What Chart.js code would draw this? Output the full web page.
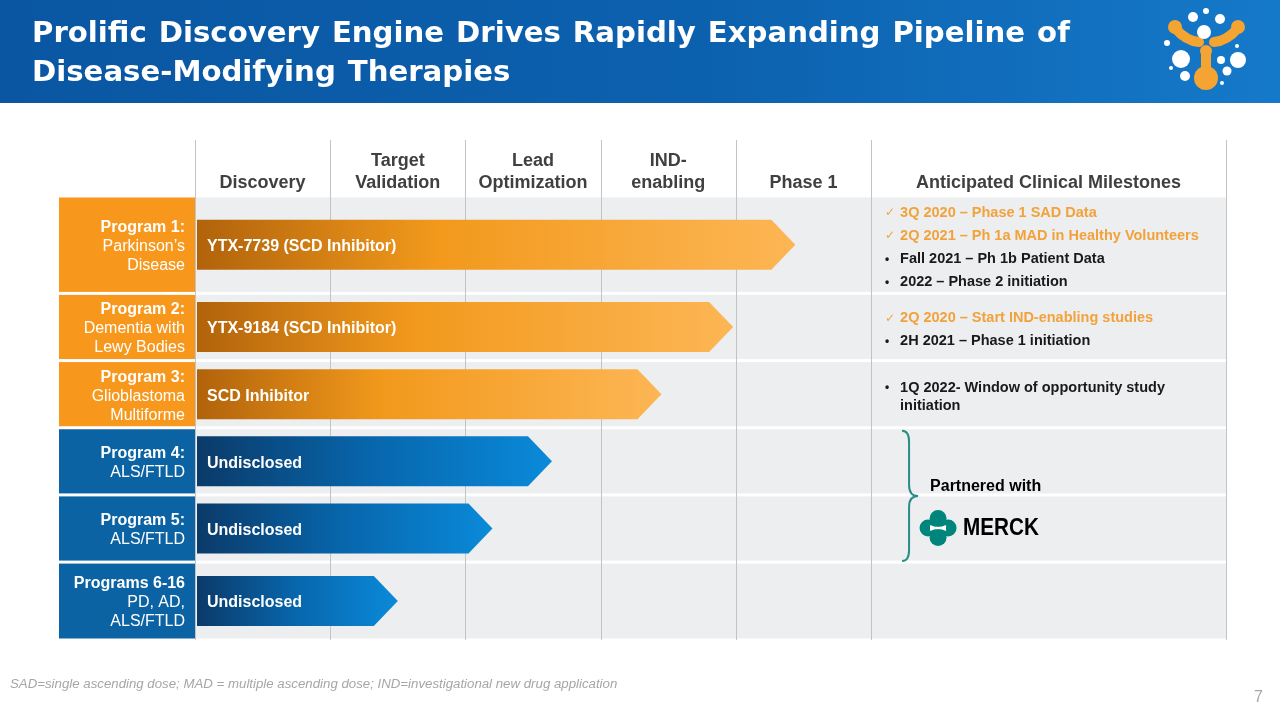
<!DOCTYPE html>
<html>
<head>
<meta charset="utf-8">
<title>Pipeline</title>
<script src="https://cdn.jsdelivr.net/npm/chart.js@4.4.0/dist/chart.umd.min.js"></script>
<style>
    body { margin: 0; width: 1280px; height: 720px; position: relative; overflow: hidden; background: #fff; }
    #band { position: absolute; left: 0; top: 0; width: 1280px; height: 103px; background: linear-gradient(90deg, #0A56A2 0%, #0C61AE 55%, #1579C9 100%); }
    #chart { position: absolute; left: 0; top: 0; }
    #title { position: absolute; left: 32px; top: 13px; color: #fff; font: bold 29.2px/39px 'DejaVu Sans', Verdana, sans-serif; word-spacing: 1.8px; white-space: nowrap; }
    #note { position: absolute; left: 10px; top: 676px; color: #A6A6A6; font: italic 13.25px 'Liberation Sans', Arial, sans-serif; }
    #page { position: absolute; left: 1254px; top: 688px; color: #A6A6A6; font: 16px 'Liberation Sans', Arial, sans-serif; }
</style>
</head>
<body>
    <div id="band"></div>
    <canvas id="chart" width="1280" height="720"></canvas>
    <div id="title">Prolific Discovery Engine Drives Rapidly Expanding Pipeline of<br>Disease-Modifying Therapies</div>
    <div id="note">SAD=single ascending dose; MAD = multiple ascending dose; IND=investigational new drug application</div>
    <div id="page">7</div>
    <script>
        // stages (x axis), one unit per stage
        const stages = [['Discovery'], ['Target', 'Validation'], ['Lead', 'Optimization'], ['IND-', 'enabling'], ['Phase 1']]
        const milestoneHeader = 'Anticipated Clinical Milestones'

        const programs = ['Program 1:', 'Program 2:', 'Program 3:', 'Program 4:', 'Program 5:', 'Programs 6-16']
        const indications = [['Parkinson’s', 'Disease'], ['Dementia with', 'Lewy Bodies'], ['Glioblastoma', 'Multiforme'], ['ALS/FTLD'], ['ALS/FTLD'], ['PD, AD,', 'ALS/FTLD']]
        const compounds = ['YTX-7739 (SCD Inhibitor)', 'YTX-9184 (SCD Inhibitor)', 'SCD Inhibitor', 'Undisclosed', 'Undisclosed', 'Undisclosed']
        // how far each program has progressed, in stages
        const progress = [4.44, 3.98, 3.45, 2.64, 2.20, 1.50]

        // [achieved, text]
        const milestones = [
            [[true, '3Q 2020 – Phase 1 SAD Data'], [true, '2Q 2021 – Ph 1a MAD in Healthy Volunteers'], [false, 'Fall 2021 – Ph 1b Patient Data'], [false, '2022 – Phase 2 initiation']],
            [[true, '2Q 2020 – Start IND-enabling studies'], [false, '2H 2021 – Phase 1 initiation']],
            [[false, '1Q 2022- Window of opportunity study initiation']],
            [], [], []
        ]
        const partnerRows = [3, 4]
        const partnerLabel = 'Partnered with'
        const partnerName = 'MERCK'

        // layout
        const FONT = "'Liberation Sans', Arial, sans-serif"
        const rowSpan = [1.45, 1, 1, 1, 1, 1.16]
        const milestoneSpan = 2.625
        const rowEdges = [0]
        rowSpan.forEach(s => rowEdges.push(rowEdges[rowEdges.length - 1] + s))
        const rowMid = rowSpan.map((s, i) => rowEdges[i] + s / 2)
        const colEdges = stages.map((s, i) => i).concat([stages.length, stages.length + milestoneSpan])

        const ORANGE = '#F7981D', BLUE = '#0C63A4', GRID = '#C3C3C3', ROW = '#EDEEF0'
        const isScd = i => /SCD/.test(compounds[i])

        function rowPx(chart, i) {
            const y = chart.scales.y
            return [y.getPixelForValue(rowEdges[i]), y.getPixelForValue(rowEdges[i + 1])]
        }

        function wrap(ctx, text, maxW) {
            const words = text.split(' ')
            const lines = []
            let cur = ''
            words.forEach(w => {
                const t = cur ? cur + ' ' + w : w
                if (ctx.measureText(t).width > maxW && cur) { lines.push(cur); cur = w } else cur = t
            })
            lines.push(cur)
            return lines
        }

        function drawLogo(ctx) {
            ctx.save()
            ctx.strokeStyle = '#F5A331'
            ctx.fillStyle = '#F5A331'
            ctx.lineCap = 'round'
            ctx.lineWidth = 10
            ctx.beginPath()
            ctx.moveTo(1175, 28); ctx.quadraticCurveTo(1186, 41, 1199, 42)
            ctx.moveTo(1238, 28); ctx.quadraticCurveTo(1227, 41, 1214, 42)
            ctx.moveTo(1206, 52); ctx.lineTo(1206, 72)
            ctx.stroke()
            ;[[1175, 27, 7], [1238, 27, 7], [1206, 78, 12], [1206, 51, 6]].forEach(c => {
                ctx.beginPath(); ctx.arc(c[0], c[1], c[2], 0, Math.PI * 2); ctx.fill()
            })
            ctx.fillStyle = '#fff'
            ;[[1181, 59, 9], [1238, 60, 8], [1204, 32, 7], [1193, 17, 5], [1220, 19, 5], [1206, 11, 3], [1167, 43, 3],
              [1237, 46, 2], [1221, 60, 4], [1227, 71, 4.5], [1185, 76, 5], [1171, 68, 2], [1222, 83, 2]].forEach(c => {
                ctx.beginPath(); ctx.arc(c[0], c[1], c[2], 0, Math.PI * 2); ctx.fill()
            })
            ctx.restore()
        }

        function drawMerck(ctx, cx, cy) {
            ctx.save()
            ctx.fillStyle = '#00857C'
            ;[[-10, 0, 8.5], [10, 0, 8.5], [0, -9.5, 8.5], [0, 9.5, 8.5]].forEach(c => {
                ctx.beginPath(); ctx.arc(cx + c[0], cy + c[1], c[2], 0, Math.PI * 2); ctx.fill()
            })
            ctx.fillStyle = '#fff'
            ctx.beginPath()
            ctx.moveTo(cx - 8, cy - 3); ctx.quadraticCurveTo(cx, cy + 1, cx + 8, cy - 3)
            ctx.lineTo(cx + 8, cy + 3); ctx.quadraticCurveTo(cx, cy - 1, cx - 8, cy + 3)
            ctx.closePath(); ctx.fill()
            ctx.fillStyle = '#000'
            ctx.font = `bold 23px ${FONT}`
            ctx.textBaseline = 'middle'
            ctx.translate(cx + 25, cy + 1)
            ctx.scale(0.9, 1)
            ctx.fillText(partnerName, 0, 0)
            ctx.restore()
        }

        const pipelinePlugin = {
            id: 'pipeline',
            beforeDatasetsDraw(chart) {
                const ctx = chart.ctx
                const area = chart.chartArea
                const xs = chart.scales.x
                ctx.save()
                // rows and program boxes
                rowSpan.forEach((s, i) => {
                    const [t, b] = rowPx(chart, i)
                    ctx.fillStyle = ROW
                    ctx.fillRect(area.left, t + 1.5, area.right - area.left, b - t - 3)
                    ctx.fillStyle = isScd(i) ? ORANGE : BLUE
                    ctx.fillRect(59, t + 1.5, area.left - 59, b - t - 3)
                    const lines = [programs[i]].concat(indications[i])
                    const mid = (t + b) / 2 + 2
                    ctx.fillStyle = '#fff'
                    ctx.textAlign = 'right'
                    ctx.textBaseline = 'middle'
                    lines.forEach((l, k) => {
                        ctx.font = (k === 0 ? 'bold ' : '') + `16px ${FONT}`
                        ctx.fillText(l, area.left - 10, mid + (k - (lines.length - 1) / 2) * 19)
                    })
                })
                // column lines
                ctx.strokeStyle = GRID
                ctx.lineWidth = 1
                colEdges.forEach(v => {
                    const x = Math.round(xs.getPixelForValue(v)) + 0.5
                    ctx.beginPath(); ctx.moveTo(x, area.top - 56); ctx.lineTo(x, area.bottom); ctx.stroke()
                })
                // column headers
                ctx.fillStyle = '#404040'
                ctx.textAlign = 'center'
                ctx.font = `bold 18px ${FONT}`
                stages.forEach((st, i) => {
                    const x = xs.getPixelForValue(i + 0.5)
                    st.forEach((l, k) => ctx.fillText(l, x, area.top - 13 - (st.length - 1 - k) * 22))
                })
                ctx.fillText(milestoneHeader, xs.getPixelForValue(stages.length + milestoneSpan / 2), area.top - 13)
                ctx.restore()
            },
            afterDatasetsDraw(chart) {
                const ctx = chart.ctx
                const area = chart.chartArea
                const xs = chart.scales.x
                const meta = chart.getDatasetMeta(0)
                ctx.save()
                meta.data.forEach((bar, i) => {
                    const p = bar.getProps(['x', 'y', 'base', 'height'], true)
                    const h = p.height, x0 = p.base + 2, tip = p.x, neck = tip - h / 2 + 1
                    const g = ctx.createLinearGradient(x0, 0, tip, 0)
                    if (isScd(i)) {
                        g.addColorStop(0, '#B1630B'); g.addColorStop(0.4, '#F2991C'); g.addColorStop(1, '#FDB655')
                    } else {
                        g.addColorStop(0, '#0B3A69'); g.addColorStop(0.5, '#0767AD'); g.addColorStop(1, '#0A8AD9')
                    }
                    ctx.fillStyle = g
                    ctx.beginPath()
                    ctx.moveTo(x0, p.y - h / 2); ctx.lineTo(neck, p.y - h / 2); ctx.lineTo(tip, p.y)
                    ctx.lineTo(neck, p.y + h / 2); ctx.lineTo(x0, p.y + h / 2); ctx.closePath()
                    ctx.fill()
                    ctx.fillStyle = '#fff'
                    ctx.font = `bold 16px ${FONT}`
                    ctx.textAlign = 'left'
                    ctx.textBaseline = 'middle'
                    ctx.fillText(compounds[i], x0 + 10, p.y + 2)
                })
                // milestones
                const colX = xs.getPixelForValue(stages.length)
                const textX = colX + 29
                ctx.font = `bold 14.5px ${FONT}`
                milestones.forEach((items, i) => {
                    if (!items.length) return
                    const [t, b] = rowPx(chart, i)
                    const blocks = items.map(it => wrap(ctx, it[1], area.right - textX - 8))
                    let total = 0
                    blocks.forEach((ls, k) => { total += (k ? 23 : 0) + (ls.length - 1) * 18 })
                    let y = (t + b) / 2 - total / 2 + 3
                    blocks.forEach((ls, k) => {
                        if (k) y += 23
                        const done = items[k][0]
                        ctx.fillStyle = done ? '#F2A23A' : '#1A1A1A'
                        ctx.textAlign = 'left'
                        ctx.font = done ? `12px 'DejaVu Sans', sans-serif` : `bold 12px ${FONT}`
                        ctx.fillText(done ? '✓' : '•', colX + 14, y)
                        ctx.font = `bold 14.5px ${FONT}`
                        ls.forEach((l, m) => {
                            ctx.fillText(l, textX, y + m * 18)
                        })
                        y += (ls.length - 1) * 18
                    })
                })
                // partner brace
                const [pt] = rowPx(chart, partnerRows[0])
                const [, pb] = rowPx(chart, partnerRows[partnerRows.length - 1])
                const pm = rowPx(chart, partnerRows[0])[1]
                const bx0 = colX + 31, bx1 = colX + 38, btip = colX + 47
                ctx.strokeStyle = '#2A8C84'
                ctx.lineWidth = 2
                ctx.beginPath()
                ctx.moveTo(bx0, pt + 3); ctx.quadraticCurveTo(bx1, pt + 3, bx1, pt + 14)
                ctx.lineTo(bx1, pm - 10); ctx.quadraticCurveTo(bx1, pm + 1, btip, pm + 1)
                ctx.quadraticCurveTo(bx1, pm + 1, bx1, pm + 12)
                ctx.lineTo(bx1, pb - 12); ctx.quadraticCurveTo(bx1, pb - 1, bx0, pb - 1)
                ctx.stroke()
                ctx.fillStyle = '#000'
                ctx.font = `bold 16px ${FONT}`
                ctx.textAlign = 'left'
                ctx.fillText(partnerLabel, colX + 59, pm - 8)
                drawMerck(ctx, colX + 67, pm + 33)
                drawLogo(ctx)
                ctx.restore()
            }
        }

        const ctx = document.getElementById('chart').getContext('2d')
        const chart = new Chart(ctx, {
            type: 'bar',
            data: {
                labels: compounds,
                datasets: [{
                    data: progress.map((v, i) => ({ x: v, y: rowMid[i] })),
                    backgroundColor: 'rgba(0,0,0,0)',
                    borderWidth: 0,
                    barThickness: 50
                }]
            },
            options: {
                indexAxis: 'y',
                responsive: false,
                animation: false,
                layout: { padding: { left: 195, right: 54, top: 196, bottom: 80 } },
                scales: {
                    x: { type: 'linear', min: 0, max: stages.length + milestoneSpan, offset: false, display: false },
                    y: { type: 'linear', min: 0, max: rowEdges[rowEdges.length - 1], reverse: true, offset: false, display: false }
                },
                plugins: { legend: { display: false }, tooltip: { enabled: false } }
            },
            plugins: [pipelinePlugin]
        })
    </script>
</body>
</html>
